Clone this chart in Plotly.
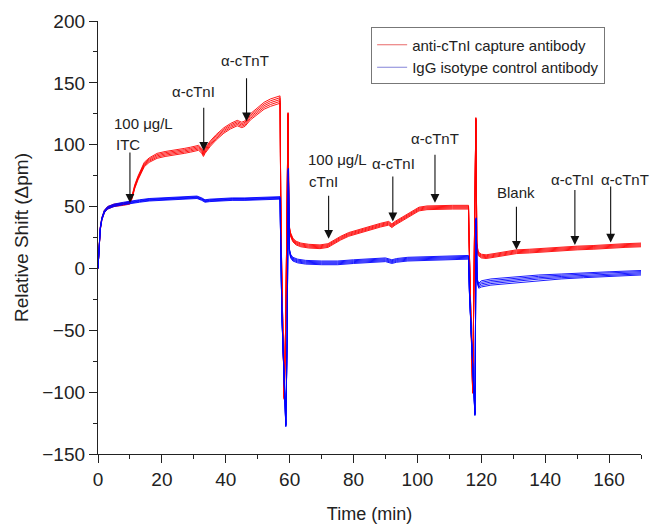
import plotly.graph_objects as go

# ---------------- data ----------------
red_t = [0, 0.3, 0.7, 1.2, 2, 3, 5, 8, 10, 10.7, 11.5, 12.5, 13.5, 14.5, 16, 18.5, 21, 24, 27, 29,
         31.5, 32.5, 33, 33.5, 35.2, 37, 39.4, 41.5, 43.6, 45, 46, 47.7, 50, 52, 54, 56, 57,
         57.2, 57.5, 58.3, 58.8, 59.5, 59.8, 60.2, 61, 62, 63.5, 66, 69.5, 72, 74, 76, 78.5, 81,
         83.5, 86, 88.5, 91, 92, 93, 95.5, 98, 100.5, 103, 107, 111, 116,
         116.2, 117.3, 118.3, 118.6, 119, 120, 121.5, 124, 127, 131, 135, 140, 145, 150, 155,
         160, 165, 170]
red_y = [0, 18, 32, 40, 46, 49, 51, 52, 53, 58, 66, 73, 79, 84, 87.5, 91, 92.5, 93.5, 95, 96,
         97.5, 95, 92.5, 95, 101, 106, 111.5, 115, 117.5, 116, 117, 122.5, 127.5, 131.5, 134, 136, 136.5,
         60, 0, -105, -40, 125, 35, 28, 23, 20.5, 19, 18, 17.5, 18.5, 21.5, 24.5, 27.5, 29.5,
         31.5, 33.5, 35, 36.5, 34.5, 36.5, 40.5, 44.5, 48, 49, 49.5, 49.5, 49.5,
         20, -100, 121, 20, 12, 10, 9.5, 10.5, 12, 13.5, 14, 15, 16, 16.5, 17,
         18, 18.5, 19]
# half-width of the replicate band
red_w = [0, 0.5, 1, 1, 1, 1, 1, 1, 1, 1.2, 1.5, 1.5, 1.5, 1.8, 1.8, 2, 2, 2, 2, 2,
         2, 2, 2, 2, 2.2, 2.2, 2.2, 2.2, 2.2, 2.2, 2.2, 2.5, 2.7, 2.8, 3, 3, 3,
         1, 1, 1, 1, 1, 1, 1.5, 1.5, 1.5, 1.5, 1.5, 1.5, 1.5, 1.5, 1.5, 1.5, 1.5,
         1.5, 1.5, 1.5, 1.5, 1.5, 1.5, 1.5, 1.5, 1.5, 1.5, 1.5, 1.5, 1.5,
         1, 1, 1, 1, 1.5, 1.5, 1.5, 1.5, 1.5, 1.5, 1.5, 1.5, 1.5, 1.5, 1.5,
         1.5, 1.5, 1.5]

blue_t = [0, 0.3, 0.7, 1.2, 2, 3, 5, 8, 10, 13, 16, 20, 25, 28, 31, 32.5, 33.5, 35, 38, 42,
          46, 50, 54, 57, 57.2, 57.6, 58.8, 59.2, 59.6, 59.9, 60.3, 61, 62.5, 65, 70, 75, 80,
          85, 90, 92, 93.5, 97, 102, 108, 112, 116, 116.3, 118, 118.4, 118.7, 119.2, 120,
          123, 127, 132, 138, 145, 152, 160, 170]
blue_y = [0, 18, 32, 40, 46, 49, 51, 52.5, 53.5, 54.5, 55.5, 56, 57, 57.5, 57.5, 56, 54.5, 55, 55.5, 56,
          56, 56.5, 57, 57, 20, -40, -127, -60, 80, 15, 10, 7.5, 6, 5, 4.5, 4.5, 5.5,
          6, 7, 5.5, 6.5, 7.5, 8, 8.5, 8.5, 9, -20, -118, 40, -10, -14, -12.5,
          -11, -10, -9, -7.5, -6.5, -5.5, -4.5, -3.5]
blue_w = [0, 0.5, 1, 1, 1, 1, 1, 1, 1, 1, 1, 1, 1, 1, 1, 1, 1, 1, 1, 1,
          1, 1, 1, 1, 1, 1, 1, 1, 1, 1, 1.5, 1.5, 1.5, 1.5, 1.5, 1.5, 1.5,
          1.5, 1.5, 1.5, 1.5, 1.5, 1.5, 1.5, 1.5, 1.5, 1, 1, 1, 1.5, 2, 2.5,
          2.5, 2.5, 2.3, 2.2, 2, 2, 1.8, 1.8]

replicates = [-1, -0.5, 0, 0.5, 1]

series_names = ["anti-cTnI capture antibody", "IgG isotype control antibody"]

# annotations: (label, text x, text y)
labels = [
    ("100 μg/L", 14.3, 117), ("ITC", 9.3, 100),
    ("α-cTnI", 30, 143), ("α-cTnT", 46, 168),
    ("100 μg/L", 75, 88), ("cTnI", 70.7, 70),
    ("α-cTnI", 92.6, 85), ("α-cTnT", 105.5, 105),
    ("Blank", 131, 61), ("α-cTnI", 148.7, 71.5), ("α-cTnT", 164.9, 71.5),
]
# arrows: (x, tail y, tip y)
arrows = [
    (10, 95, 53), (33.1, 131, 95), (46.5, 155, 119),
    (72.2, 60, 24), (92.3, 75.5, 38), (105.5, 93, 53),
    (131, 51, 15), (149.3, 64.7, 19), (160.5, 67.4, 21),
]

FONT = "Arial, 'Liberation Sans', Helvetica, sans-serif"

fig = go.Figure()

for t, y, w, col, name in [(red_t, red_y, red_w, "#ff0000", series_names[0]),
                            (blue_t, blue_y, blue_w, "#0000ff", series_names[1])]:
    for k in replicates:
        fig.add_trace(go.Scatter(
            x=t, y=[yy + k * ww for yy, ww in zip(y, w)], mode="lines",
            line=dict(color=col, width=0.9), showlegend=False, hoverinfo="skip",
        ))

# legend entries (thin, light sample lines as in the reference)
for col, name in [("#e86a6a", series_names[0]), ("#8484d8", series_names[1])]:
    fig.add_trace(go.Scatter(x=[None], y=[None], mode="lines",
                             line=dict(color=col, width=1.2), name=name, showlegend=True))

ann = []
for txt, x, y in labels:
    ann.append(dict(x=x, y=y, xref="x", yref="y", text=txt, showarrow=False,
                    font=dict(family=FONT, size=15, color="#222")))
for x, ty, hy in arrows:
    ann.append(dict(x=x, y=hy, ax=x, ay=ty, xref="x", yref="y", axref="x", ayref="y",
                    text="", showarrow=True, arrowhead=2, arrowsize=1.6, arrowwidth=1.1,
                    arrowcolor="#111"))

axis_common = dict(
    showline=True, linecolor="#222", linewidth=1.3, showgrid=False, zeroline=False,
    ticks="outside", ticklen=8, tickwidth=1.3, tickcolor="#222",
    tickfont=dict(family=FONT, size=19, color="#222"),
    mirror=False, automargin=False,
)

fig.update_layout(
    width=655, height=529,
    margin=dict(l=98, r=14, t=21, b=75),
    paper_bgcolor="white", plot_bgcolor="white",
    font=dict(family=FONT, color="#222"),
    xaxis=dict(range=[0, 170], dtick=20, tick0=0,
               minor=dict(dtick=10, ticks="outside", ticklen=4, tickwidth=1.3, tickcolor="#222"),
               title=dict(text="Time (min)", font=dict(family=FONT, size=18, color="#222"), standoff=18),
               **axis_common),
    yaxis=dict(range=[-150, 200], dtick=50, tick0=0,
               minor=dict(dtick=25, ticks="outside", ticklen=4, tickwidth=1.3, tickcolor="#222"),
               title=dict(text="Relative Shift (Δpm)", font=dict(family=FONT, size=19, color="#222"), standoff=8),
               **axis_common),
    legend=dict(x=0.503, y=0.985, xanchor="left", yanchor="top",
                bgcolor="white", bordercolor="#777", borderwidth=1,
                font=dict(family=FONT, size=15, color="#222"),
                itemwidth=30, tracegroupgap=0),
    annotations=ann,
    showlegend=True,
)

fig.write_html("out.html")
